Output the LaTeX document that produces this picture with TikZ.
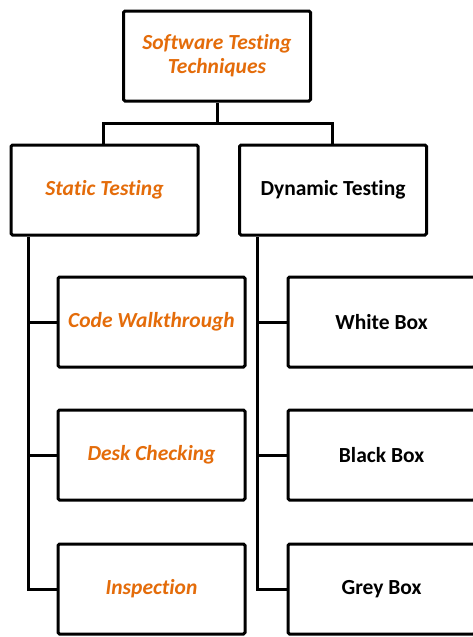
\documentclass[tikz,border=0pt]{standalone}
\usepackage{fontspec}
\setmainfont[Ligatures={NoCommon}]{Carlito}
\usetikzlibrary{positioning}
\definecolor{techorange}{HTML}{E46C0A}

\begin{document}
\begin{tikzpicture}[x=1pt, y=-1pt,
  box/.style={draw, line width=3pt, rounded corners=1.5pt, fill=white,
    minimum width=187pt, minimum height=90pt, align=center,
    font=\fontsize{21.5}{24}\selectfont\bfseries},
  hot/.style={text=techorange, font=\fontsize{21.5}{24}\selectfont\bfseries\itshape},
  link/.style={line width=3pt}]
  \clip (0,0) rectangle (473,637);
  \fill[white] (0,0) rectangle (473,637);

  \node[box, hot] (techniques) at (217,56) {Software Testing\\Techniques};
  \node[box, hot] (static) at (104.5,190) {Static Testing};
  \node[box] (dynamic) at (333,190) {Dynamic Testing};

  \node[box, hot] (walk) at (151.5,322) {Code Walkthrough};
  \node[box, hot] (desk) at (151.5,455) {Desk Checking};
  \node[box, hot] (insp) at (151.5,589) {Inspection};

  \node[box] (white) at (381.5,322) {White Box};
  \node[box] (black) at (381.5,455) {Black Box};
  \node[box] (grey) at (381.5,589) {Grey Box};

  % level one
  \coordinate (split) at (217,123);
  \draw[link] (techniques.south) -- (split);
  \draw[link] (static.north -| 103,0) |- (split) -| (dynamic.north -| 332,0);

  % static branch
  \coordinate (strunk) at (28,237);
  \draw[link] (strunk) |- (insp.west);
  \draw[link] (walk.west -| strunk) -- (walk.west);
  \draw[link] (desk.west -| strunk) -- (desk.west);

  % dynamic branch
  \coordinate (dtrunk) at (257,237);
  \draw[link] (dtrunk) |- (grey.west);
  \draw[link] (white.west -| dtrunk) -- (white.west);
  \draw[link] (black.west -| dtrunk) -- (black.west);
\end{tikzpicture}
\end{document}
